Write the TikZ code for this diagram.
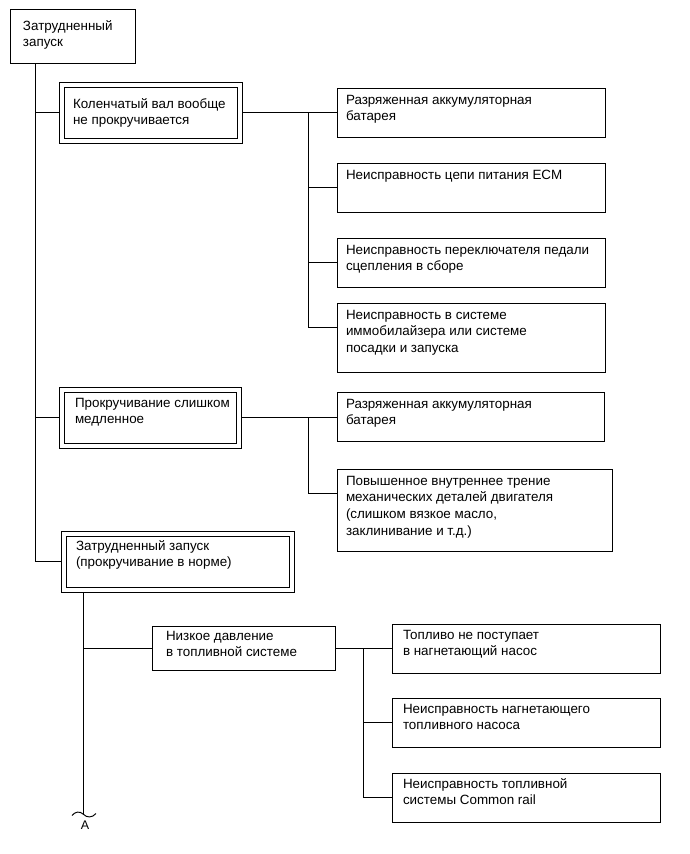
\documentclass[tikz,border=0pt]{standalone}
\usepackage{fontspec}
\setmainfont{Liberation Sans}
\usetikzlibrary{calc}
\tikzset{
  bx/.style={draw=black, line width=0.95pt, anchor=north west, inner sep=0pt, outer sep=0pt},
  tx/.style={anchor=north west, inner sep=0pt, outer sep=0pt, align=left,
             font=\fontsize{13.4}{16.8}\selectfont},
  ln/.style={draw=black, line width=0.95pt},
}
% name, x, y, w, h, text x, first baseline, text
\newcommand\mybox[8]{%
  \node[bx, minimum width=#4pt, minimum height=#5pt] (#1) at (#2,#3) {};
  \node[tx] (#1t) at (#6,#7-11) {\rule{0pt}{11pt}#8};
}
\newcommand\myinner[1]{%
  \draw[ln] ([shift={(5pt,-5pt)}]#1.north west) rectangle ([shift={(-5pt,5pt)}]#1.south east);
}
\begin{document}
\begin{tikzpicture}[x=1pt,y=-1pt]
\useasboundingbox[fill=white] (0,0) rectangle (690,854);

\mybox{T}{10}{9}{125}{54}{23}{30}{Затрудненный\\запуск}

\mybox{DB1}{59}{82}{183}{61}{73}{108}{Коленчатый вал вообще\\не прокручивается}
\myinner{DB1}
\mybox{A1}{337}{88}{268}{49}{346}{104}{Разряженная аккумуляторная\\батарея}
\mybox{A2}{337}{163}{268}{49}{346}{179}{Неисправность цепи питания ECM}
\mybox{A3}{337}{238}{268}{49}{346}{254}{Неисправность переключателя педали\\сцепления в сборе}
\mybox{A4}{337}{303}{268}{69}{346}{319}{Неисправность в системе\\иммобилайзера или системе\\посадки и запуска}

\mybox{DB2}{59}{387}{182}{61}{75}{407}{Прокручивание слишком\\медленное}
\myinner{DB2}
\mybox{B1}{337}{392}{267}{49}{346}{408}{Разряженная аккумуляторная\\батарея}
\mybox{B2}{337}{469}{275}{82}{346}{485}{Повышенное внутреннее трение\\механических деталей двигателя\\(слишком вязкое масло,\\заклинивание и т.д.)}

\mybox{DB3}{61}{531}{233}{61}{76}{550}{Затрудненный запуск\\(прокручивание в норме)}
\myinner{DB3}

\mybox{LP}{152}{626}{183}{44}{166}{640}{Низкое давление\\в топливной системе}
\mybox{C1}{392}{624}{268}{49}{403}{639}{Топливо не поступает\\в нагнетающий насос}
\mybox{C2}{392}{698}{268}{49}{403}{713}{Неисправность нагнетающего\\топливного насоса}
\mybox{C3}{392}{773}{268}{49}{403}{788}{Неисправность топливной\\системы Common rail}

% connection points on the right-hand boxes
\foreach \b in {A2,A3,A4,B2,C2,C3}{
  \coordinate (\b c) at ([yshift=-24pt]\b.north west);
}

% main trunk
\coordinate (mtop) at ([xshift=25pt]T.south west);
\draw[ln] (mtop) -- (mtop |- DB3.west);
\draw[ln] (mtop |- DB1.west) -- (DB1.west);
\draw[ln] (mtop |- DB2.west) -- (DB2.west);
\draw[ln] (mtop |- DB3.west) -- (DB3.west);

% group A
\coordinate (busA) at (308,0);
\draw[ln] (DB1.east) -- (DB1.east -| A1.west);
\draw[ln] (busA |- DB1.east) -- (busA |- A4c);
\foreach \b in {A2,A3,A4}{ \draw[ln] (busA |- \b c) -- (\b c); }

% group B
\coordinate (busB) at (308,0);
\draw[ln] (DB2.east) -- (DB2.east -| B1.west);
\draw[ln] (busB |- DB2.east) -- (busB |- B2c);
\draw[ln] (busB |- B2c) -- (B2c);

% lower trunk
\coordinate (ltop) at ([xshift=22pt]DB3.south west);
\coordinate (brk) at (83,814);
\draw[ln] (ltop) -- (brk);
\draw[ln] (ltop |- LP.west) -- (LP.west);

% group C
\coordinate (busC) at (363,0);
\draw[ln] (LP.east) -- (LP.east -| C1.west);
\draw[ln] (busC |- LP.east) -- (busC |- C3c);
\foreach \b in {C2,C3}{ \draw[ln] (busC |- \b c) -- (\b c); }

% break mark
\draw[line width=0.95pt] (72,815.5) .. controls (75,811.5) and (80,811) .. (83,814)
  .. controls (87,818) and (92,818) .. (96,813.5);
\node[inner sep=0pt, font=\fontsize{12.5}{13}\selectfont] (lblA) at (85,825.5) {A};
\end{tikzpicture}
\end{document}
